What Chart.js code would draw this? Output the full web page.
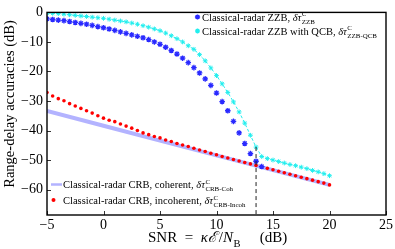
<!DOCTYPE html>
<html>
<head>
<meta charset="utf-8">
<script src="https://cdn.jsdelivr.net/npm/chart.js@4.4.1/dist/chart.umd.min.js"></script>
<style>
  html, body { margin: 0; padding: 0; background: #fff; }
  #wrap { width: 395px; height: 249px; }
</style>
</head>
<body>
<div id="wrap"><canvas id="c" width="395" height="249"></canvas></div>
<script>
// ---------- Data ----------
const xTicks = [-5, 0, 5, 10, 15, 20, 25];
const yTicks = [0, -10, -20, -30, -40, -50, -60];

const snrZzb = [-5,-4.5,-4,-3.5,-3,-2.5,-2,-1.5,-1,-0.5,0,0.5,1,1.5,2,2.5,3,3.5,4,4.5,5,5.5,6,6.5,7,7.5,8,8.5,9,9.5,10,10.5,11,11.5,12,12.5,13,13.5,14];
const zzb = [-2.2,-2.4,-2.6,-2.8,-3.1,-3.4,-3.7,-4.0,-4.4,-4.8,-5.2,-5.6,-6.1,-6.6,-7.1,-7.6,-8.1,-8.6,-9.2,-10.0,-10.8,-11.8,-12.9,-14.1,-15.5,-17.0,-18.7,-20.5,-22.5,-24.7,-27.3,-30.2,-33.3,-36.9,-40.8,-44.4,-47.8,-50.4,-52.2];

const snrQcb = [-5,-4.5,-4,-3.5,-3,-2.5,-2,-1.5,-1,-0.5,0,0.5,1,1.5,2,2.5,3,3.5,4,4.5,5,5.5,6,6.5,7,7.5,8,8.5,9,9.5,10,10.5,11,11.5,12,12.5,13,13.5,14,14.5,15,15.5,16,16.5,17,17.5,18,18.5,19,19.5,20];
const zzbQcb = [-0.2,-0.3,-0.4,-0.6,-0.8,-1.0,-1.2,-1.4,-1.6,-1.8,-2.0,-2.3,-2.6,-2.9,-3.2,-3.6,-4.0,-4.5,-5.0,-5.6,-6.2,-7.0,-7.9,-8.9,-10.0,-11.3,-12.5,-14.3,-16.4,-18.8,-21.4,-24.2,-27.1,-30.3,-33.7,-37.5,-41.6,-45.6,-48.8,-49.5,-50.0,-50.5,-51.0,-51.5,-51.9,-52.4,-52.9,-53.5,-54.0,-54.6,-55.3];

const snrCrb = [-5,-4.5,-4,-3.5,-3,-2.5,-2,-1.5,-1,-0.5,0,0.5,1,1.5,2,2.5,3,3.5,4,4.5,5,5.5,6,6.5,7,7.5,8,8.5,9,9.5,10,10.5,11,11.5,12,12.5,13,13.5,14,14.5,15,15.5,16,16.5,17,17.5,18,18.5,19,19.5,20];
const crbIncoh = [-27.1,-28.3,-29.2,-29.9,-30.9,-31.7,-32.5,-33.3,-34.1,-35.0,-35.8,-36.5,-37.0,-37.8,-38.5,-39.2,-40.0,-40.8,-41.4,-42.0,-42.5,-43.2,-43.7,-44.4,-44.9,-45.4,-46.0,-46.6,-47.1,-47.7,-48.2,-48.8,-49.3,-49.8,-50.3,-50.8,-51.3,-51.8,-52.3,-52.8,-53.3,-53.8,-54.3,-54.8,-55.3,-55.8,-56.3,-56.8,-57.3,-57.8,-58.4];

const snrCoh = [-5, 0, 5, 10, 15, 20];
const crbCoh = [-33.4, -38.4, -43.4, -48.4, -53.4, -58.4];

// threshold marker (dashed vertical line)
const thrSnr = [13.5, 13.5];
const thrVal = [-45.6, -68.6];

const Y_MIN = -68.6;
const SERIF = '"Liberation Serif", "DejaVu Serif", serif';
const pts = (xs, ys) => xs.map((x, i) => ({ x, y: ys[i] }));
const minus = v => (v < 0 ? '\u2212' + Math.abs(v) : String(v));

// text with italic pieces and stacked sup/sub
function richText(ctx, x, y, parts, size) {
  ctx.textAlign = 'left'; ctx.textBaseline = 'alphabetic'; ctx.fillStyle = '#000';
  for (const p of parts) {
    if (typeof p === 'string') {
      ctx.font = `${size}px ${SERIF}`; ctx.fillText(p, x, y); x += ctx.measureText(p).width;
    } else if (p.i) {
      ctx.font = `italic ${size}px ${SERIF}`; ctx.fillText(p.i, x, y); x += ctx.measureText(p.i).width + (p.gap || 0);
    } else {
      const s = p.size || size * 0.66; let w = 0;
      ctx.font = `${s}px ${SERIF}`;
      if (p.sup) { ctx.fillText(p.sup, x + 0.5, y - size * 0.42); w = ctx.measureText(p.sup).width; }
      if (p.sub) { ctx.fillText(p.sub, x + 0.5, y + size * 0.3); w = Math.max(w, ctx.measureText(p.sub).width); }
      x += w + 1;
    }
  }
  return x;
}

const decor = {
  id: 'decor',
  afterDraw(chart) {
    const { ctx, chartArea: a, scales } = chart;
    ctx.save();
    // inward ticks
    ctx.strokeStyle = '#333'; ctx.lineWidth = 1;
    ctx.beginPath();
    yTicks.forEach(v => { const py = Math.round(scales.y.getPixelForValue(v)) + 0.5; ctx.moveTo(a.left, py); ctx.lineTo(a.left + 4, py); });
    xTicks.forEach(v => { const px = Math.round(scales.x.getPixelForValue(v)) + 0.5; ctx.moveTo(px, a.bottom); ctx.lineTo(px, a.bottom - 4); });
    ctx.stroke();
    // frame
    ctx.strokeStyle = '#000'; ctx.lineWidth = 1.4;
    ctx.strokeRect(a.left, a.top, a.right - a.left, a.bottom - a.top);

    // legend, top right
    const H = Chart.helpers;
    const fs = 10.5;
    ctx.strokeStyle = '#2a2aff'; ctx.fillStyle = '#2a2aff';
    H.drawPoint(ctx, { pointStyle: 'star', radius: 2.6, borderWidth: 1.2 }, 197.5, 17);
    ctx.strokeStyle = '#22eeee';
    H.drawPoint(ctx, { pointStyle: 'star', radius: 2.4, borderWidth: 1 }, 197.5, 31);
    richText(ctx, 202, 20.5, ['Classical-radar ZZB, ', { i: '\u03b4\u03c4' }, { sup: 'C', sub: 'ZZB' }], fs);
    richText(ctx, 202, 34.5, ['Classical-radar ZZB with QCB, ', { i: '\u03b4\u03c4' }, { sup: 'C', sub: 'ZZB-QCB' }], fs);

    // legend, bottom left
    ctx.strokeStyle = '#b3b3ff'; ctx.lineWidth = 2.5;
    ctx.beginPath(); ctx.moveTo(51, 184.5); ctx.lineTo(62, 184.5); ctx.stroke();
    ctx.fillStyle = '#ff0000';
    ctx.beginPath(); ctx.arc(53.5, 200, 2, 0, Math.PI * 2); ctx.fill();
    richText(ctx, 63, 188, ['Classical-radar CRB, coherent, ', { i: '\u03b4\u03c4' }, { sup: 'C', sub: 'CRB-Coh' }], fs);
    richText(ctx, 63, 204, ['Classical-radar CRB, incoherent, ', { i: '\u03b4\u03c4' }, { sup: 'C', sub: 'CRB-Incoh' }], fs);

    // axis titles
    richText(ctx, 148, 242, ['SNR  =  ', { i: '\u03ba\u2130', gap: 2 }, '/', { i: 'N' }, { sub: 'B', size: 10.5 }, '     (dB)'], 15);
    ctx.translate(13.5, 104); ctx.rotate(-Math.PI / 2);
    ctx.font = `14.5px ${SERIF}`; ctx.fillStyle = '#000'; ctx.textAlign = 'center'; ctx.textBaseline = 'alphabetic';
    ctx.fillText('Range-delay accuracies (dB)', 0, 0);
    ctx.restore();
  }
};

const tickFont = { family: SERIF, size: 14 };

new Chart(document.getElementById('c').getContext('2d'), {
  type: 'scatter',
  data: {
    datasets: [
      { label: 'threshold', data: pts(thrSnr, thrVal), showLine: true, borderColor: '#222', borderWidth: 1, borderDash: [4, 3], pointRadius: 0, order: 0 },
      { label: 'ZZB-QCB', data: pts(snrQcb, zzbQcb), showLine: true, borderColor: '#22eeee', borderWidth: 1, borderDash: [3, 2],
        pointStyle: 'star', pointRadius: 2.4, pointBorderColor: '#22eeee', pointBorderWidth: 1, order: 1 },
      { label: 'ZZB', data: pts(snrZzb, zzb), showLine: false,
        pointStyle: 'star', pointRadius: 2.8, pointBorderColor: '#2a2aff', pointBorderWidth: 1.3, order: 2 },
      { label: 'CRB-Incoh', data: pts(snrCrb, crbIncoh), showLine: false,
        pointStyle: 'circle', pointRadius: 1.8, pointBackgroundColor: '#ff0000', pointBorderWidth: 0, order: 3 },
      { label: 'CRB-Coh', data: pts(snrCoh, crbCoh), showLine: true, borderColor: '#b3b3ff', borderWidth: 4, pointRadius: 0, order: 4 }
    ]
  },
  options: {
    responsive: false, animation: false, devicePixelRatio: 1,
    layout: { padding: { top: 5, right: 9, left: 0, bottom: 0 } },
    plugins: { legend: { display: false }, tooltip: { enabled: false } },
    scales: {
      x: {
        type: 'linear', min: -5, max: 25,
        ticks: { stepSize: 5, font: tickFont, color: '#000', padding: 2, maxRotation: 0, callback: minus },
        grid: { display: false, drawTicks: false }, border: { display: false },
        afterFit: s => { s.height = 34; }
      },
      y: {
        type: 'linear', min: Y_MIN, max: 0,
        ticks: { stepSize: 10, font: tickFont, color: '#000', padding: 4, callback: minus },
        grid: { display: false, drawTicks: false }, border: { display: false },
        afterBuildTicks: s => { s.ticks = s.ticks.filter(t => yTicks.includes(t.value)); },
        afterFit: s => { s.width = 47; }
      }
    }
  },
  plugins: [decor]
});
</script>
</body>
</html>
